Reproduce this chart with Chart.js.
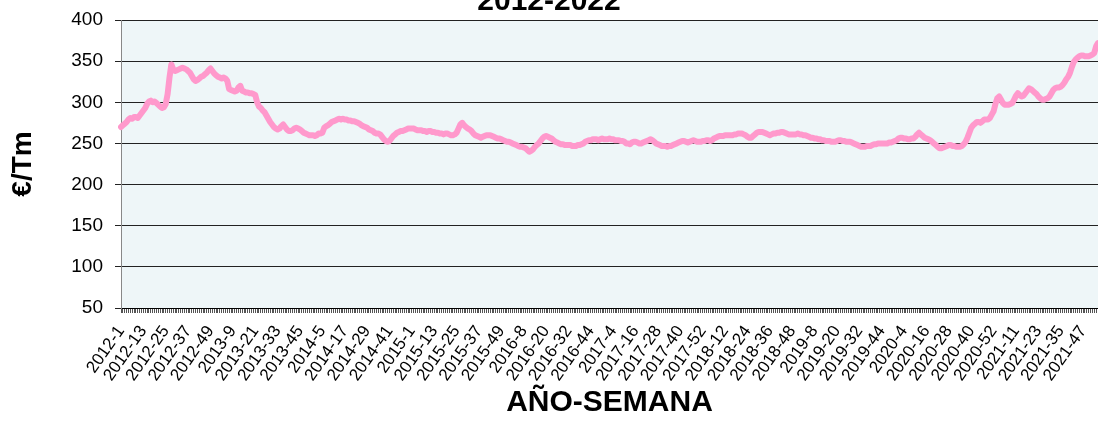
<!DOCTYPE html>
<html lang="es">
<head>
  <meta charset="UTF-8" />
  <title>Precio €/Tm 2012-2022</title>
  <script src="https://cdn.jsdelivr.net/npm/chart.js"></script>
  <style>
    body { margin: 0; background: #fff; overflow: hidden; }
    #chart { position: absolute; left: 0; top: -20px; }
  </style>
</head>
<body>
  <canvas id="chart" width="1098" height="441"></canvas>

  <script>
    // años y número de semanas de cada uno (2015 y 2020 tienen 53)
    const years = [2012, 2013, 2014, 2015, 2016, 2017, 2018, 2019, 2020, 2021, 2022];
    const weeksPerYear = [52, 52, 52, 53, 52, 52, 52, 52, 53, 52, 3];

    // precios semanales €/Tm
    const p2012 = [270, 272, 274, 276, 279, 281, 280, 282, 282, 281, 284, 287, 290, 293, 298, 301, 302, 300, 301, 299,
      297, 295, 293, 294, 298, 310, 330, 346, 340, 338, 339, 340, 341, 342, 341, 340, 338, 336, 332, 328,
      326, 327, 329, 331, 332, 334, 336, 339, 341, 338, 335, 333];
    const p2013 = [331, 330, 329, 330, 329, 326, 316, 315, 314, 313, 314, 318, 320, 314, 313, 312, 312, 311, 311, 310,
      309, 300, 295, 293, 290, 288, 284, 280, 276, 273, 270, 268, 267, 268, 271, 273, 270, 267, 265, 265,
      266, 268, 269, 268, 267, 265, 263, 262, 261, 260, 260, 260];
    const p2014 = [259, 260, 262, 262, 263, 269, 271, 272, 274, 276, 277, 278, 279, 280, 279, 280, 279, 279, 278, 278,
      277, 277, 276, 275, 274, 272, 271, 270, 269, 267, 266, 265, 263, 262, 262, 261, 258, 255, 253, 252,
      253, 256, 259, 261, 263, 264, 265, 265, 266, 267, 268, 268];
    const p2015 = [268, 268, 267, 266, 266, 266, 265, 265, 264, 265, 265, 264, 264, 263, 263, 262, 262, 261, 262, 262,
      261, 260, 260, 261, 263, 268, 273, 275, 272, 270, 268, 267, 265, 262, 260, 259, 258, 257, 258, 259,
      260, 260, 260, 259, 258, 257, 256, 256, 255, 254, 253, 252, 252];
    const p2016 = [251, 250, 249, 248, 247, 246, 246, 245, 244, 242, 240, 241, 243, 246, 248, 250, 253, 256, 258, 259,
      258, 257, 256, 254, 252, 251, 250, 249, 249, 248, 248, 248, 248, 247, 247, 247, 248, 248, 249, 250,
      252, 253, 254, 254, 255, 255, 255, 254, 255, 256, 255, 255];
    const p2017 = [255, 256, 255, 255, 254, 254, 254, 253, 253, 252, 250, 250, 249, 251, 252, 252, 251, 250, 250, 251,
      252, 253, 254, 255, 254, 252, 250, 249, 248, 247, 247, 247, 246, 247, 247, 248, 249, 250, 251, 252,
      253, 253, 252, 251, 252, 253, 254, 253, 252, 252, 252, 253];
    const p2018 = [253, 254, 254, 253, 254, 256, 257, 258, 259, 259, 259, 260, 260, 260, 260, 260, 261, 261, 262, 262,
      262, 261, 260, 258, 257, 257, 259, 261, 263, 264, 264, 264, 263, 262, 261, 260, 261, 262, 262, 263,
      263, 264, 264, 263, 262, 261, 261, 261, 261, 261, 262, 261];
    const p2019 = [261, 260, 260, 259, 258, 257, 257, 256, 256, 255, 255, 254, 254, 253, 253, 253, 252, 252, 252, 253,
      254, 254, 253, 253, 252, 252, 252, 251, 250, 249, 248, 247, 246, 246, 246, 247, 247, 247, 248, 249,
      249, 250, 250, 250, 250, 250, 250, 251, 251, 252, 253, 254];
    const p2020 = [256, 257, 257, 256, 256, 255, 255, 256, 256, 258, 261, 263, 261, 259, 257, 256, 255, 254, 252, 250,
      248, 246, 244, 244, 245, 246, 247, 248, 248, 247, 247, 246, 246, 246, 247, 249, 252, 257, 263, 269,
      272, 274, 276, 276, 275, 277, 279, 279, 279, 281, 285, 289, 298];
    const p2021 = [305, 307, 303, 299, 297, 297, 297, 298, 299, 303, 308, 311, 309, 307, 308, 311, 314, 317, 316, 314,
      312, 310, 307, 305, 303, 303, 304, 305, 307, 311, 315, 317, 318, 318, 319, 321, 324, 328, 331, 336,
      343, 349, 352, 354, 356, 357, 357, 356, 356, 356, 357, 358];
    const p2022 = [360, 368, 372];

    const yTicks = [50, 100, 150, 200, 250, 300, 350, 400];

    const labels = [];
    years.forEach((y, k) => {
      for (let w = 1; w <= weeksPerYear[k]; w++) labels.push(y + '-' + w);
    });
    const precios = [].concat(p2012, p2013, p2014, p2015, p2016, p2017, p2018, p2019, p2020, p2021, p2022);

    const fuente = "'Liberation Sans', Arial, sans-serif";

    // fondo del área de trazado
    const fondoPlot = {
      id: 'fondoPlot',
      beforeDraw(chart) {
        const a = chart.chartArea;
        const ctx = chart.ctx;
        ctx.save();
        ctx.fillStyle = '#EEF6F8';
        ctx.fillRect(a.left, a.top, a.right - a.left, a.bottom - a.top);
        ctx.restore();
      }
    };

    new Chart(document.getElementById('chart'), {
      type: 'line',
      data: {
        labels: labels,
        datasets: [{
          data: precios,
          borderColor: '#FF99CC',
          borderWidth: 6,
          pointRadius: 0,
          tension: 0,
          borderJoinStyle: 'round',
          borderCapStyle: 'round'
        }]
      },
      options: {
        responsive: false,
        animation: false,
        devicePixelRatio: 1,
        layout: { padding: 0 },
        plugins: {
          legend: { display: false },
          tooltip: { enabled: false },
          title: {
            display: true,
            text: '2012-2022',
            color: '#000',
            font: { family: fuente, size: 30, weight: 'bold' },
            padding: { top: 4, bottom: 0 }
          }
        },
        scales: {
          x: {
            afterFit(scale) {
              scale.height = 113;
              scale.paddingLeft = 0;
              scale.paddingRight = 0;
            },
            ticks: {
              autoSkip: false,
              minRotation: 55,
              maxRotation: 55,
              padding: 9,
              color: '#000',
              font: { family: fuente, size: 17 },
              callback: (v, i) => (i % 12 === 0 ? labels[i] : '')
            },
            grid: { drawOnChartArea: false, drawTicks: true, tickLength: 5, color: '#555' },
            border: { color: '#000', width: 1 },
            title: {
              display: true,
              text: 'AÑO-SEMANA',
              color: '#000',
              font: { family: fuente, size: 30, weight: 'bold' },
              padding: { top: 0, bottom: 0 }
            }
          },
          y: {
            min: 50,
            max: 400,
            afterFit(scale) { scale.width = 121; },
            afterBuildTicks(scale) { scale.ticks = yTicks.map(v => ({ value: v })); },
            ticks: {
              color: '#000',
              padding: 12,
              font: { family: fuente, size: 19 }
            },
            grid: { color: '#222', tickLength: 6, drawTicks: true },
            border: { color: '#888', width: 1 },
            title: {
              display: true,
              text: '€/Tm',
              color: '#000',
              font: { family: fuente, size: 28, weight: 'bold' },
              padding: { top: 6, bottom: 0 }
            }
          }
        }
      },
      plugins: [fondoPlot]
    });
  </script>
</body>
</html>
